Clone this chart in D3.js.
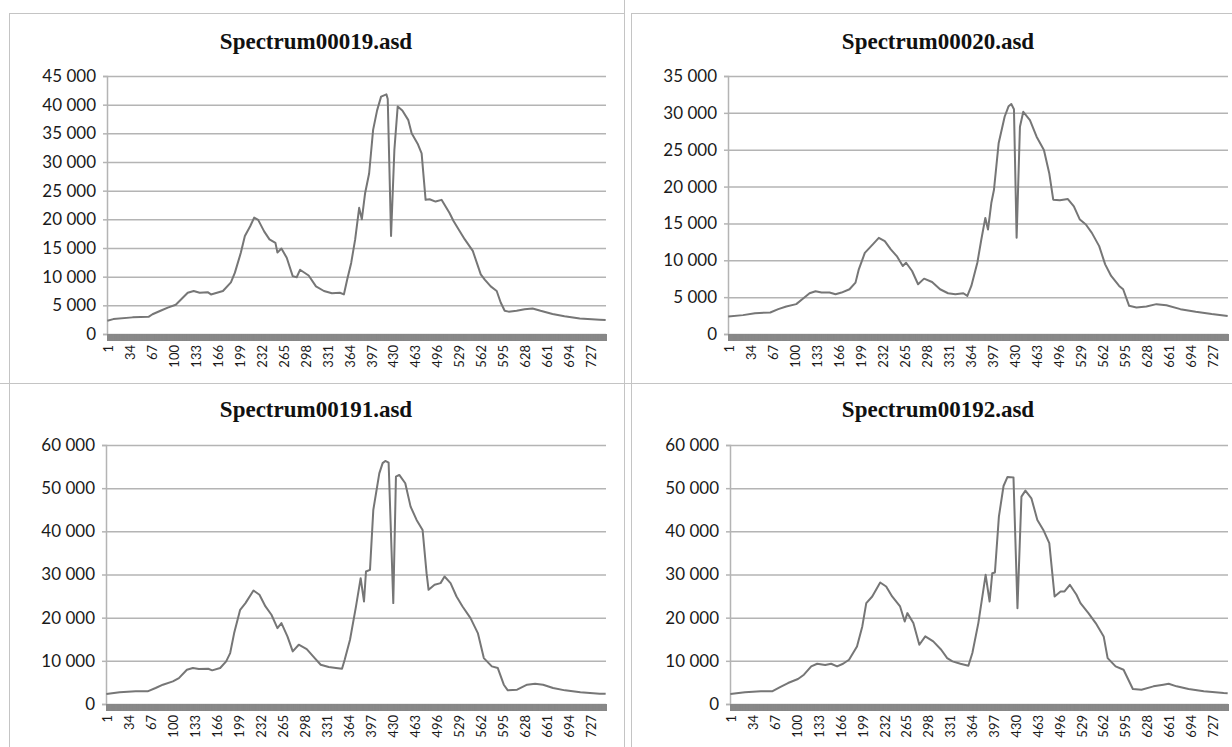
<!DOCTYPE html>
<html>
<head>
<meta charset="utf-8">
<script src="https://cdn.jsdelivr.net/npm/d3@7"></script>
<style>
    body { margin: 0; background: #ffffff; }
    svg { display: block; }
    .title { font-family: "Liberation Serif", "Times New Roman", serif; font-weight: bold; font-size: 23px; fill: #111; }
    .y-axis text { font-family: Lato, "Open Sans", sans-serif; font-size: 17px; fill: #1a1a1a; }
    .x-labels text { font-family: Lato, "Open Sans", sans-serif; font-size: 13px; fill: #1a1a1a; }
</style>
</head>
<body>
<div id="chart"></div>
<script>
// number of channels on the category axis
const channelCount = 751;
const labelStep = 33;

const titles = ["Spectrum00019.asd", "Spectrum00020.asd", "Spectrum00191.asd", "Spectrum00192.asd"];
const yMaxes = [45000, 35000, 60000, 60000];
const ySteps = [5000, 5000, 10000, 10000];

// [channel, value]
const spectrum00019 = [
    [1, 2300], [10, 2600], [39, 2900], [63, 3000], [69, 3450], [81, 4050], [92, 4600], [104, 5100],
    [110, 5800], [122, 7200], [131, 7500], [140, 7200], [152, 7300], [157, 6900], [166, 7200], [175, 7500],
    [187, 9000], [193, 10700], [202, 14200], [208, 17100], [216, 18800], [222, 20300], [228, 19900],
    [237, 17900], [245, 16500], [254, 15900], [257, 14200], [263, 14900], [271, 13300], [280, 10100],
    [286, 9900], [291, 11200], [304, 10200], [315, 8300], [327, 7500], [339, 7100], [351, 7200], [357, 6900],
    [362, 9500], [368, 12400], [374, 16500], [380, 22000], [384, 20000], [389, 24600], [395, 28000],
    [401, 35600], [407, 39000], [413, 41400], [421, 41800], [423, 41000], [428, 17100], [433, 32100],
    [438, 39700], [445, 39000], [454, 37300], [459, 35000], [468, 33200], [474, 31500], [480, 23400],
    [486, 23500], [495, 23100], [504, 23400], [516, 21100], [522, 19700], [530, 18200], [539, 16500],
    [551, 14500], [563, 10400], [569, 9500], [578, 8300], [587, 7500], [593, 5500], [599, 4050],
    [605, 3900], [617, 4050], [629, 4300], [641, 4450], [653, 4050], [671, 3500], [689, 3100],
    [712, 2700], [742, 2500], [751, 2450]
];

const spectrum00020 = [
    [1, 2380], [23, 2560], [41, 2830], [64, 2920], [76, 3370], [88, 3730], [103, 4050], [112, 4720],
    [123, 5530], [132, 5800], [141, 5620], [153, 5620], [162, 5400], [171, 5620], [183, 6070], [192, 6970],
    [197, 8770], [206, 11000], [218, 12150], [227, 13050], [236, 12600], [245, 11470], [254, 10570],
    [263, 9220], [268, 9670], [277, 8550], [286, 6750], [295, 7510], [307, 7060], [319, 6070], [331, 5530],
    [342, 5400], [354, 5530], [360, 5170], [366, 6520], [375, 9670], [381, 12820], [387, 15750],
    [391, 14170], [396, 17770], [400, 19570], [407, 25870], [416, 29470], [422, 30900], [426, 31200],
    [430, 30500], [434, 13050], [439, 28120], [444, 30140], [454, 29020], [464, 26770], [475, 24970],
    [483, 21820], [489, 18220], [499, 18130], [511, 18310], [520, 17320], [529, 15520], [538, 14850],
    [547, 13720], [558, 11920], [567, 9450], [576, 7870], [588, 6520], [594, 6070], [603, 3820], [614, 3600],
    [629, 3730], [644, 4050], [659, 3910], [680, 3370], [703, 3010], [727, 2700], [751, 2450]
];

const spectrum00191 = [
    [1, 2310], [21, 2700], [45, 2930], [63, 2930], [75, 3700], [86, 4470], [101, 5240], [110, 6000],
    [122, 7940], [131, 8330], [140, 8100], [154, 8170], [160, 7790], [172, 8330], [181, 9870], [187, 11800],
    [193, 16430], [202, 21820], [210, 23370], [222, 26300], [231, 25300], [240, 22600], [249, 20670],
    [258, 17580], [264, 18740], [273, 15660], [281, 12180], [290, 13730], [302, 12720], [314, 10640],
    [323, 9100], [335, 8560], [346, 8330], [355, 8170], [359, 10260], [367, 14880], [376, 22600],
    [383, 29150], [388, 23750], [391, 30690], [397, 31080], [402, 44960], [411, 53440], [416, 55800],
    [420, 56300], [425, 55900], [432, 23370], [436, 52670], [441, 53060], [450, 51130], [458, 45730],
    [467, 42650], [476, 40330], [482, 30310], [485, 26450], [494, 27610], [503, 28000], [509, 29540],
    [518, 28000], [527, 24910], [536, 22600], [548, 19900], [559, 16430], [568, 10640], [580, 8710],
    [589, 8330], [598, 4470], [604, 3160], [618, 3320], [633, 4470], [645, 4700], [657, 4470], [672, 3700],
    [690, 3160], [713, 2700], [742, 2390], [751, 2350]
];

const spectrum00192 = [
    [1, 2310], [23, 2700], [47, 2930], [64, 2930], [76, 3930], [88, 4860], [103, 5780], [112, 6790],
    [123, 8710], [132, 9330], [144, 9020], [153, 9330], [162, 8710], [171, 9330], [180, 10260],
    [192, 13340], [200, 17970], [206, 23370], [215, 24910], [227, 28150], [236, 27220], [245, 24910],
    [257, 22600], [264, 19130], [268, 21050], [277, 18740], [286, 13730], [295, 15660], [307, 14500],
    [319, 12570], [328, 10640], [336, 9870], [348, 9330], [360, 8870], [366, 11800], [375, 18740],
    [386, 29920], [392, 23750], [396, 30310], [400, 30460], [406, 43420], [413, 50500], [419, 52600],
    [428, 52500], [434, 22210], [440, 48040], [446, 49430], [455, 47660], [464, 42650], [473, 40330],
    [482, 37250], [490, 24910], [499, 26070], [505, 26070], [513, 27610], [523, 25300], [529, 23370],
    [541, 21050], [552, 18740], [564, 15660], [570, 10640], [582, 8710], [594, 7940], [608, 3470],
    [621, 3320], [639, 4090], [654, 4470], [662, 4700], [674, 4090], [692, 3470], [715, 2930], [745, 2540],
    [751, 2500]
];

const seriesList = [spectrum00019, spectrum00020, spectrum00191, spectrum00192];

// page layout
const width = 1232;
const height = 747;
const lineColor = "#767676";
const gridColor = "#b4b4b4";
const bandColor = "#888888";
const borderColor = "#c4c4c4";

const panelBoxes = [
    { left: 107, right: 606, top: 76, bottom: 334, titleX: 316, titleY: 49 },
    { left: 728, right: 1228, top: 76, bottom: 334, titleX: 938, titleY: 49 },
    { left: 106, right: 606, top: 445, bottom: 704, titleX: 316, titleY: 417 },
    { left: 730, right: 1228, top: 445, bottom: 704, titleX: 938, titleY: 417 }
];

const spaceFormat = d3.formatLocale({ decimal: ",", thousands: " ", grouping: [3], currency: ["", ""] }).format(",d");

const svg = d3.select("#chart")
    .append("svg")
        .attr("width", width)
        .attr("height", height);

// frame lines of the 2x2 layout
const frame = svg.append("g")
    .attr("stroke", borderColor)
    .attr("stroke-width", 1)
    .attr("shape-rendering", "crispEdges");

frame.append("line").attr("x1", 9).attr("x2", 624).attr("y1", 13.5).attr("y2", 13.5);
frame.append("line").attr("x1", 631).attr("x2", width).attr("y1", 13.5).attr("y2", 13.5);
frame.append("line").attr("x1", 0).attr("x2", width).attr("y1", 383.5).attr("y2", 383.5);
frame.append("line").attr("x1", 9.5).attr("x2", 9.5).attr("y1", 13).attr("y2", height);
frame.append("line").attr("x1", 624.5).attr("x2", 624.5).attr("y1", 0).attr("y2", height);
frame.append("line").attr("x1", 631.5).attr("x2", 631.5).attr("y1", 13).attr("y2", height);

const drawPanel = (data, i) => {
    const box = panelBoxes[i];
    const yMax = yMaxes[i];

    const xScale = d3.scaleLinear()
        .domain([0.5, channelCount + 0.5])
        .range([box.left, box.right]);

    const yScale = d3.scaleLinear()
        .domain([0, yMax])
        .range([box.bottom, box.top]);

    const panel = svg.append("g")
        .attr("class", "panel");

    panel
    .append("text")
        .attr("class", "title")
        .attr("x", box.titleX)
        .attr("y", box.titleY)
        .attr("text-anchor", "middle")
        .text(titles[i]);

    const yTicks = d3.range(0, yMax + 1, ySteps[i]);

    // gridlines
    panel
    .append("g")
        .attr("transform", `translate(${box.left}, 0)`)
        .call(d3.axisRight(yScale).tickValues(yTicks).tickSize(box.right - box.left).tickFormat(""))
        .call(g => g.select(".domain").remove())
        .call(g => g.selectAll("line")
            .attr("stroke", gridColor)
            .attr("stroke-width", 1.5));

    // y axis
    const yAxis = panel
    .append("g")
        .attr("class", "y-axis")
        .attr("transform", `translate(${box.left}, 0)`)
        .call(d3.axisLeft(yScale).tickValues(yTicks).tickSize(4).tickPadding(7).tickFormat(spaceFormat));

    yAxis.select(".domain")
        .attr("stroke", gridColor)
        .attr("stroke-width", 1.5);
    yAxis.selectAll("line")
        .attr("stroke", gridColor)
        .attr("stroke-width", 1.5);

    // one tick per channel makes the dark band under the plot
    panel
    .append("g")
        .attr("transform", `translate(0, ${box.bottom})`)
        .call(d3.axisBottom(xScale).tickValues(d3.range(1, channelCount + 1)).tickSize(7).tickFormat(""))
        .call(g => g.select(".domain")
            .attr("stroke", bandColor))
        .call(g => g.selectAll("line")
            .attr("stroke", bandColor)
            .attr("stroke-width", 1.5));

    // category labels every 33 channels
    panel
    .append("g")
        .attr("class", "x-labels")
        .attr("transform", `translate(0, ${box.bottom})`)
        .call(d3.axisBottom(xScale).tickValues(d3.range(1, channelCount + 1, labelStep)).tickSize(0))
        .call(g => g.select(".domain").remove())
        .call(g => g.selectAll("text")
            .attr("transform", "rotate(-90)")
            .attr("x", -11)
            .attr("y", 1)
            .attr("dy", "0.35em")
            .attr("text-anchor", "end"));

    const line = d3.line()
        .x(d => xScale(d[0]))
        .y(d => yScale(d[1]));

    panel
    .append("path")
        .datum(data)
        .attr("d", line)
        .attr("fill", "none")
        .attr("stroke", lineColor)
        .attr("stroke-width", 2)
        .attr("stroke-linejoin", "round");
};

seriesList.forEach((data, i) => drawPanel(data, i));
</script>
</body>
</html>
